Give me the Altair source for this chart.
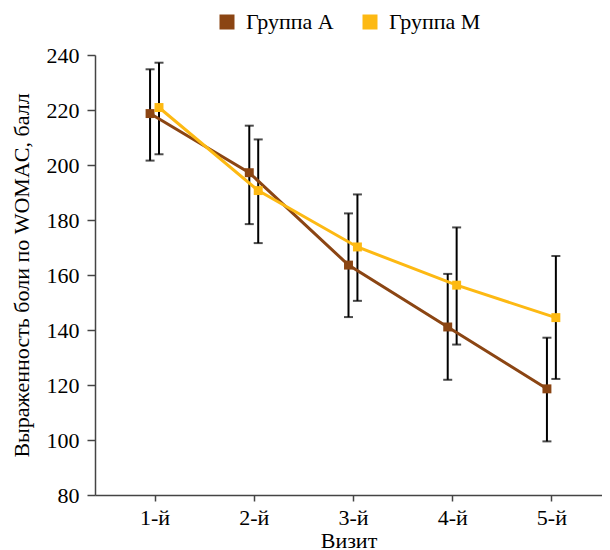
import json
import altair as alt
import pandas as pd

visits = [1, 2, 3, 4, 5]
visit_labels = ["1-й", "2-й", "3-й", "4-й", "5-й"]
groups = ["Группа А", "Группа М"]
colors = ["#8B4513", "#FDB913"]

a_mean = [218.7, 197.2, 163.6, 141.1, 118.6]
a_low = [201.6, 178.5, 144.7, 121.9, 99.5]
a_high = [234.8, 214.3, 182.4, 160.4, 137.2]

m_mean = [220.9, 190.7, 170.2, 156.3, 144.5]
m_low = [203.9, 171.6, 150.6, 134.7, 122.2]
m_high = [237.2, 209.3, 189.3, 177.3, 166.9]

rows = []
for g, mean, low, high in [(groups[0], a_mean, a_low, a_high), (groups[1], m_mean, m_low, m_high)]:
    for v, mu, lo, hi in zip(visits, mean, low, high):
        rows.append({"visit": v, "group": g, "mean": mu, "low": lo, "high": hi})
df = pd.DataFrame(rows)

FONT = "Liberation Serif"
FS = 22

label_expr = json.dumps(visit_labels, ensure_ascii=False) + "[datum.value - 1]"

x_enc = alt.X(
    "xpos:Q",
    scale=alt.Scale(domain=[0.4, 5.51], nice=False, zero=False),
    axis=alt.Axis(
        values=visits, labelExpr=label_expr, title="Визит", grid=False,
        tickSize=6, labelPadding=6, titleBaseline="alphabetic", titleY=52,
    ),
)
y_scale = alt.Scale(domain=[80, 240], nice=False, zero=False)
y_axis = alt.Axis(
    values=list(range(80, 241, 20)), title="Выраженность боли по WOMAC, балл",
    grid=False, tickSize=8, labelPadding=8, titlePadding=13,
)

base = alt.Chart(df).transform_calculate(
    xpos=f"datum.visit + (datum.group == '{groups[0]}' ? -0.045 : 0.045)"
)

rules = base.mark_rule(color="black", strokeWidth=2).encode(
    x=x_enc, y=alt.Y("low:Q", scale=y_scale, axis=y_axis), y2="high:Q"
)
cap_low = base.mark_tick(color="black", orient="horizontal", size=9, thickness=2).encode(
    x="xpos:Q", y=alt.Y("low:Q")
)
cap_high = base.mark_tick(color="black", orient="horizontal", size=9, thickness=2).encode(
    x="xpos:Q", y=alt.Y("high:Q")
)
# stroke scale: data-driven domain (sorted: А before М) so its disabled legend is not merged with the fill legend
lines = base.mark_line(strokeWidth=3).encode(
    x="xpos:Q", y=alt.Y("mean:Q"),
    stroke=alt.Stroke("group:N", scale=alt.Scale(range=colors), legend=None),
)
points = base.mark_square(size=80, opacity=1).encode(
    x="xpos:Q", y=alt.Y("mean:Q"),
    fill=alt.Fill(
        "group:N", scale=alt.Scale(domain=groups, range=colors),
        legend=alt.Legend(
            title=None, orient="none", legendX=121, legendY=-44, direction="horizontal",
            symbolType="square", symbolSize=225, symbolStrokeWidth=0, symbolOpacity=1,
            labelFontSize=FS, labelFont=FONT, labelColor="black", columnPadding=25,
            labelOffset=8,
        ),
    ),
)

chart = alt.layer(rules, cap_low, cap_high, lines, points).properties(
    width=507, height=440,
    autosize=alt.AutoSizeParams(type="none"),
    padding={"left": 87, "top": 47, "right": 0, "bottom": 56},
).configure_view(stroke=None).configure_axis(
    labelFont=FONT, titleFont=FONT, labelFontSize=FS, titleFontSize=FS,
    labelColor="black", titleColor="black", titleFontWeight="normal",
    domainColor="#444", tickColor="#444", domainWidth=1.5, tickWidth=1.5,
)

chart.save("out.html", embed_options={"renderer": "svg", "actions": False})
